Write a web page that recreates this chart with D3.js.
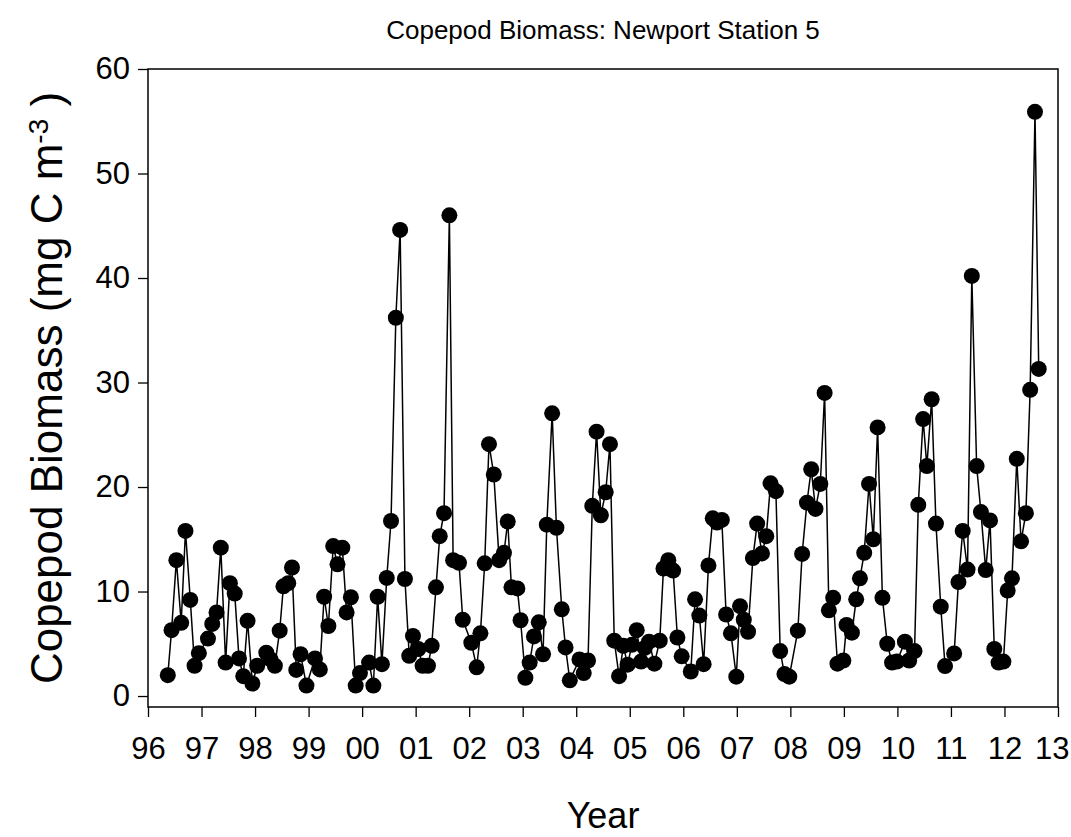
<!DOCTYPE html>
<html>
<head>
<meta charset="utf-8">
<script src="https://cdn.jsdelivr.net/npm/d3@7"></script>
<style>
  body { margin: 0; background: white; }
  text { font-family: "Liberation Sans", Arial, sans-serif; fill: black; }
</style>
</head>
<body>
<svg id="chart"></svg>
<script>

// sample dates (decimal year)
var years = [
  1996.37, 1996.44, 1996.53, 1996.62, 1996.70, 1996.79, 1996.87, 1996.95,
  1997.12, 1997.20, 1997.28, 1997.36, 1997.45, 1997.53, 1997.62, 1997.70, 1997.78, 1997.86, 1997.95,
  1998.04, 1998.21, 1998.29, 1998.37, 1998.46, 1998.53, 1998.62, 1998.69, 1998.77, 1998.85, 1998.96,
  1999.12, 1999.21, 1999.29, 1999.37, 1999.46, 1999.54, 1999.63, 1999.71, 1999.79, 1999.88, 1999.96,
  2000.13, 2000.21, 2000.29, 2000.37, 2000.46, 2000.54, 2000.63, 2000.71, 2000.80, 2000.88, 2000.95,
  2001.05, 2001.13, 2001.23, 2001.30, 2001.38, 2001.45, 2001.53, 2001.63, 2001.70, 2001.81, 2001.88,
  2002.04, 2002.14, 2002.21, 2002.29, 2002.37, 2002.46, 2002.56, 2002.65, 2002.72, 2002.79, 2002.90, 2002.96,
  2003.05, 2003.13, 2003.21, 2003.30, 2003.38, 2003.45, 2003.55, 2003.63, 2003.73, 2003.80, 2003.88,
  2004.06, 2004.14, 2004.22, 2004.30, 2004.38, 2004.46, 2004.55, 2004.63, 2004.71, 2004.80, 2004.88, 2004.96,
  2005.04, 2005.13, 2005.21, 2005.28, 2005.36, 2005.46, 2005.56, 2005.63, 2005.72, 2005.81, 2005.89, 2005.97,
  2006.14, 2006.22, 2006.30, 2006.38, 2006.47, 2006.55, 2006.63, 2006.72, 2006.80, 2006.89, 2006.99,
  2007.06, 2007.13, 2007.21, 2007.30, 2007.38, 2007.47, 2007.55, 2007.63, 2007.73, 2007.81, 2007.89, 2007.98,
  2008.14, 2008.22, 2008.31, 2008.39, 2008.47, 2008.56, 2008.64, 2008.72, 2008.80, 2008.88, 2008.99,
  2009.05, 2009.15, 2009.23, 2009.30, 2009.38, 2009.47, 2009.55, 2009.63, 2009.72, 2009.81, 2009.90, 2009.99,
  2010.14, 2010.22, 2010.32, 2010.39, 2010.48, 2010.55, 2010.64, 2010.72, 2010.81, 2010.89,
  2011.06, 2011.14, 2011.22, 2011.31, 2011.39, 2011.48, 2011.56, 2011.65, 2011.73, 2011.81, 2011.89, 2011.98,
  2012.06, 2012.14, 2012.23, 2012.31, 2012.40, 2012.48, 2012.57, 2012.64
];

// copepod biomass, mg C m-3
var biomass = [
  2.0, 6.3, 13.0, 7.0, 15.8, 9.2, 2.9, 4.1,
  5.5, 6.9, 8.0, 14.2, 3.2, 10.8, 9.8, 3.6, 1.9, 7.2, 1.2,
  2.9, 4.15, 3.5, 2.9, 6.25, 10.5, 10.8, 12.3, 2.5, 4.0, 1.0,
  3.6, 2.55, 9.5, 6.7, 14.35, 12.6, 14.2, 8.0, 9.45, 1.0, 2.2,
  3.2, 1.0, 9.5, 3.05, 11.3, 16.75, 36.2, 44.6, 11.2, 3.85, 5.75,
  4.5, 2.9, 2.9, 4.8, 10.4, 15.3, 17.5, 46.0, 13.0, 12.75, 7.3,
  5.1, 2.75, 6.0, 12.7, 24.1, 21.2, 13.0, 13.7, 16.7, 10.4, 10.3, 7.25,
  1.75, 3.2, 5.7, 7.05, 4.0, 16.4, 27.05, 16.1, 8.3, 4.65, 1.5,
  3.5, 2.2, 3.4, 18.2, 25.3, 17.3, 19.5, 24.1, 5.3, 1.9, 4.8, 3.0,
  4.9, 6.3, 3.3, 4.6, 5.2, 3.1, 5.3, 12.2, 13.0, 12.0, 5.6, 3.8,
  2.35, 9.25, 7.7, 3.05, 12.5, 17.0, 16.6, 16.85, 7.8, 6.0, 1.85,
  8.6, 7.3, 6.15, 13.2, 16.5, 13.65, 15.3, 20.35, 19.6, 4.3, 2.1, 1.85,
  6.25, 13.6, 18.5, 21.7, 17.9, 20.3, 29.0, 8.2, 9.4, 3.1, 3.4,
  6.8, 6.06, 9.25, 11.26, 13.7, 20.3, 15.0, 25.7, 9.4, 5.0, 3.2, 3.3,
  5.2, 3.4, 4.3, 18.3, 26.5, 22.0, 28.4, 16.5, 8.55, 2.87,
  4.08, 10.9, 15.8, 12.1, 40.2, 22.0, 17.6, 12.05, 16.8, 4.5, 3.2, 3.3,
  10.1, 11.26, 22.7, 14.8, 17.5, 29.3, 55.9, 31.3
];

var yearTicks = d3.range(1996, 2014);
var yTicks = [0, 10, 20, 30, 40, 50, 60];

var data = years.map(function(d, i){ return {year: d, value: biomass[i]}; });

var W = 1071, H = 837;
var plotLeft = 148, plotRight = 1058, plotTop = 69, plotBottom = 707;

var svg = d3.select("#chart")
    .attr("width", W)
    .attr("height", H);

var xScale = d3.scaleLinear().domain([1996, 2013]).range([plotLeft, plotRight]);
var yScale = d3.scaleLinear().domain([-1.05, 60]).range([plotBottom, plotTop]);

// frame
svg.append("rect")
    .attr("x", plotLeft).attr("y", plotTop)
    .attr("width", plotRight - plotLeft).attr("height", plotBottom - plotTop)
    .attr("fill", "none")
    .attr("stroke", "black")
    .attr("stroke-width", 1.5);

var xAxis = d3.axisBottom(xScale)
    .tickValues(yearTicks)
    .tickSize(10)
    .tickPadding(20)
    .tickFormat(function(d){ return String(d).slice(2); });

var yAxis = d3.axisLeft(yScale)
    .tickValues(yTicks)
    .tickSize(10)
    .tickPadding(8);

var gx = svg.append("g")
    .attr("transform", "translate(0," + plotBottom + ")")
    .call(xAxis);

var gy = svg.append("g")
    .attr("transform", "translate(" + plotLeft + ",0)")
    .call(yAxis);

[gx, gy].forEach(function(g){
    g.select(".domain").remove();
    g.selectAll(".tick line").attr("stroke", "black").attr("stroke-width", 1.3);
    g.selectAll(".tick text")
        .attr("fill", "black")
        .style("font-family", "'Liberation Sans', Arial, sans-serif")
        .style("font-size", "31px");
});

// last year label would run off the page edge, pull it in
gx.selectAll(".tick text")
    .filter(function(d){ return d === 2013; })
    .attr("text-anchor", "end")
    .attr("x", W - 2 - plotRight);

// series
var line = d3.line()
    .x(function(d){ return xScale(d.year); })
    .y(function(d){ return yScale(d.value); });

svg.append("path")
    .datum(data)
    .attr("d", line)
    .attr("fill", "none")
    .attr("stroke", "black")
    .attr("stroke-width", 1.5);

svg.selectAll("circle.pt")
    .data(data)
    .enter()
    .append("circle")
    .attr("class", "pt")
    .attr("cx", function(d){ return xScale(d.year); })
    .attr("cy", function(d){ return yScale(d.value); })
    .attr("r", 8)
    .attr("fill", "black");

// titles
svg.append("text")
    .attr("x", (plotLeft + plotRight) / 2)
    .attr("y", 39)
    .attr("text-anchor", "middle")
    .style("font-size", "26px")
    .text("Copepod Biomass: Newport Station 5");

svg.append("text")
    .attr("x", (plotLeft + plotRight) / 2)
    .attr("y", 828)
    .attr("text-anchor", "middle")
    .style("font-size", "36px")
    .text("Year");

var ytitle = svg.append("text")
    .attr("transform", "translate(62," + ((plotTop + plotBottom) / 2) + ") rotate(-90)")
    .attr("text-anchor", "middle")
    .style("font-size", "44px");

ytitle.append("tspan").text("Copepod Biomass (mg C m");
ytitle.append("tspan").attr("dy", "-0.5em").style("font-size", "28px").text("-3");
ytitle.append("tspan").attr("dy", "0.32em").text(" )");

</script>
</body>
</html>
